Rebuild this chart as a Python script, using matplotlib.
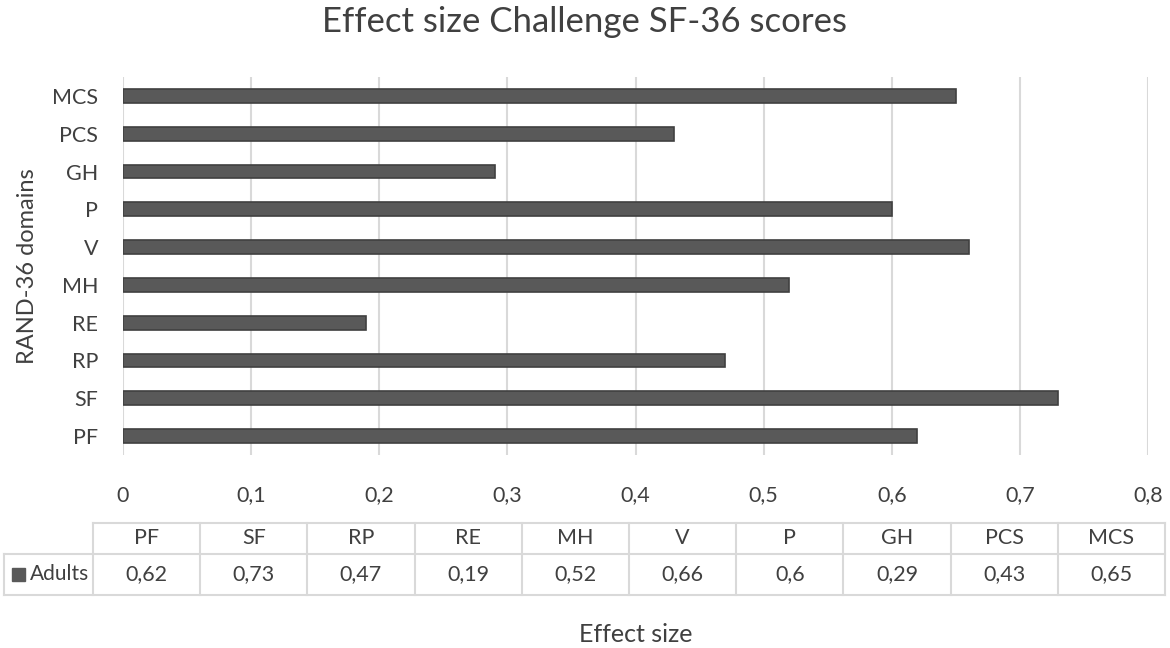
import matplotlib.pyplot as plt
from matplotlib.patches import Rectangle

# data
domains = ["PF", "SF", "RP", "RE", "MH", "V", "P", "GH", "PCS", "MCS"]
adults = [0.62, 0.73, 0.47, 0.19, 0.52, 0.66, 0.6, 0.29, 0.43, 0.65]
xticks = [0, 0.1, 0.2, 0.3, 0.4, 0.5, 0.6, 0.7, 0.8]
series_name = "Adults"

W, H = 1170, 648
bar_col = "#595959"
edge_col = "#404040"
grid_col = "#d9d9d9"
txt_col = "#404040"
plt.rcParams['font.family'] = ['Lato', 'DejaVu Sans']


def comma(v):
    s = ("%g" % v)
    return s.replace(".", ",")


fig = plt.figure(figsize=(W / 100, H / 100), dpi=100)

# main bar axes
ax = fig.add_axes([123 / W, 1 - 455 / H, (1148 - 123) / W, (455 - 77) / H])
ypos = list(range(len(domains)))
ax.barh(ypos, adults, height=0.36, color=bar_col, edgecolor=edge_col,
        linewidth=1.2, zorder=3)
ax.set_xlim(0, 0.8)
ax.set_ylim(-0.5, len(domains) - 0.5)
ax.set_xticks(xticks)
ax.set_xticklabels([comma(t) for t in xticks])
ax.set_yticks(ypos)
ax.set_yticklabels(domains)
ax.grid(axis="x", color=grid_col, linewidth=1.5, zorder=0)
for s in ax.spines.values():
    s.set_visible(False)
ax.tick_params(length=0, labelsize=15.5, colors=txt_col)
ax.tick_params(axis="x", pad=22)
ax.tick_params(axis="y", pad=18)

fig.text(28 / W, 1 - 266 / H, "RAND-36 domains", rotation=90,
         ha="center", va="center", fontsize=17, color=txt_col)
fig.text(585 / W, 1 - 22 / H, "Effect size Challenge SF-36 scores",
         ha="center", va="center", fontsize=25, color=txt_col)
fig.text(636 / W, 1 - 634 / H, "Effect size", ha="center", va="center",
         fontsize=18, color=txt_col)

# data table under the chart
tx0, tx1 = 4, 1165
ty0, ty1 = 523, 595
tab = fig.add_axes([tx0 / W, 1 - ty1 / H, (tx1 - tx0) / W, (ty1 - ty0) / H])
tab.set_xlim(0, tx1 - tx0)
tab.set_ylim(0, ty1 - ty0)
tab.axis("off")
lab_w = 89
col_w = (tx1 - tx0 - lab_w) / len(domains)
row_split = ty1 - 554
top = ty1 - ty0
lk = dict(color=grid_col, linewidth=1.5, clip_on=False)

tab.plot([lab_w, tx1 - tx0], [top, top], **lk)
tab.plot([0, tx1 - tx0], [row_split, row_split], **lk)
tab.plot([0, tx1 - tx0], [0, 0], **lk)
tab.plot([0, 0], [0, row_split], **lk)
for i in range(len(domains) + 1):
    x = lab_w + i * col_w
    tab.plot([x, x], [0, top], **lk)

for i, (d, v) in enumerate(zip(domains, adults)):
    xc = lab_w + (i + 0.5) * col_w
    tab.text(xc, (row_split + top) / 2, d, ha="center", va="center",
             fontsize=15.5, color=txt_col)
    tab.text(xc, row_split / 2, comma(v), ha="center", va="center",
             fontsize=15.5, color=txt_col)
tab.add_patch(Rectangle((8, row_split / 2 - 6.5), 13, 13, color=bar_col,
                        clip_on=False))
tab.text(26, row_split / 2, series_name, ha="left", va="center",
         fontsize=15, color=txt_col)

fig.savefig("out.png", dpi=100)
